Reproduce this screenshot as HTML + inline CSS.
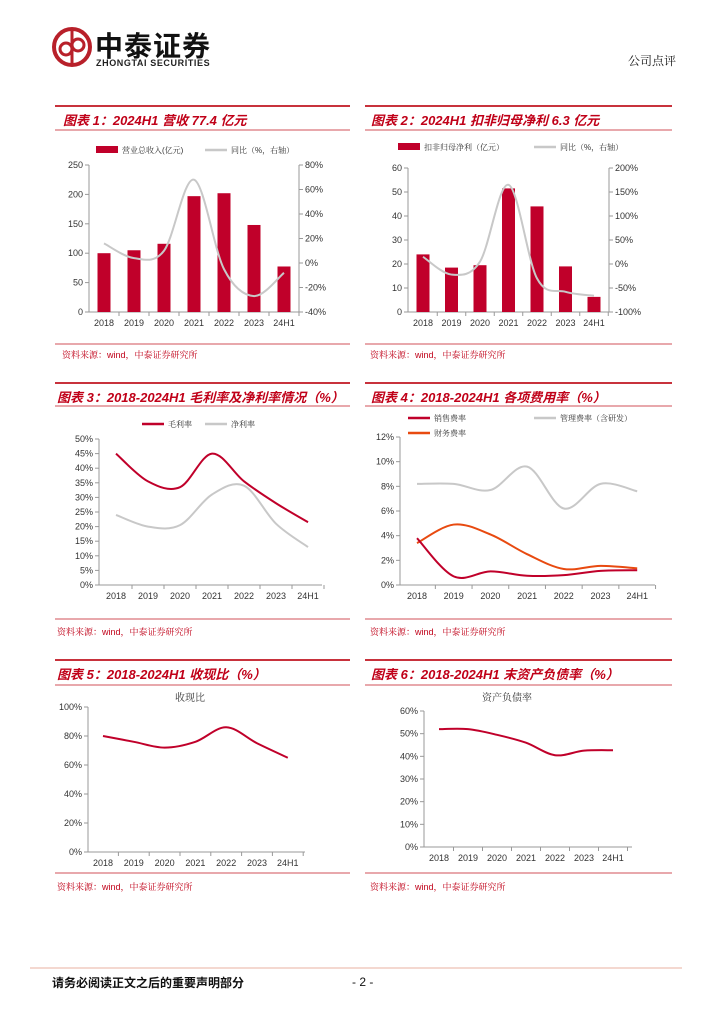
<!DOCTYPE html>
<html><head><meta charset="utf-8">
<style>
body{margin:0;background:#fff;}
#page{position:relative;width:724px;height:1024px;overflow:hidden;font-family:"Liberation Sans","Noto Sans CJK SC",sans-serif;}
.t{position:absolute;white-space:nowrap;}
.ttl{position:absolute;color:#c00018;font-weight:bold;font-style:italic;font-size:13px;font-family:"Liberation Sans","Noto Sans CJK SC",sans-serif;}
.src{position:absolute;color:#c00018;font-size:9px;font-family:"Liberation Sans","Noto Serif CJK SC",sans-serif;}
svg{position:absolute;left:0;top:0;}
</style></head>
<body>
<div id="page">
<svg width="724" height="1024">
 <g>
  <circle cx="72" cy="47" r="18" fill="none" stroke="#b8202a" stroke-width="4"/>
  <line x1="72" y1="31" x2="72" y2="63" stroke="#b8202a" stroke-width="3"/>
  <circle cx="66" cy="49" r="6" fill="none" stroke="#b8202a" stroke-width="3"/>
  <circle cx="78" cy="45" r="6" fill="none" stroke="#b8202a" stroke-width="3"/>
 </g>
 <g id="g"></g>
</svg>
<div class="t" style="left:95px;top:29px;font-size:28px;font-weight:bold;color:#111;font-family:'Noto Sans CJK SC',sans-serif;line-height:32px;letter-spacing:1px">中泰证券</div>
<div class="t" style="left:96px;top:58px;font-size:9px;font-weight:bold;color:#222;letter-spacing:0.6px">ZHONGTAI SECURITIES</div>
<div class="t" style="left:628px;top:52px;font-size:12px;color:#111;font-family:'Noto Serif CJK SC',serif">公司点评</div>

<div class="ttl" style="left:63px;top:110px">图表 1：2024H1 营收 77.4 亿元</div>
<div class="ttl" style="left:371px;top:110px">图表 2：2024H1 扣非归母净利 6.3 亿元</div>
<div class="ttl" style="left:57px;top:387px">图表 3：2018-2024H1 毛利率及净利率情况（%）</div>
<div class="ttl" style="left:371px;top:387px">图表 4：2018-2024H1 各项费用率（%）</div>
<div class="ttl" style="left:57px;top:664px">图表 5：2018-2024H1 收现比（%）</div>
<div class="ttl" style="left:371px;top:664px">图表 6：2018-2024H1 末资产负债率（%）</div>

<div class="src" style="left:62px;top:348px">资料来源：wind，中泰证券研究所</div>
<div class="src" style="left:370px;top:348px">资料来源：wind，中泰证券研究所</div>
<div class="src" style="left:57px;top:625px">资料来源：wind，中泰证券研究所</div>
<div class="src" style="left:370px;top:625px">资料来源：wind，中泰证券研究所</div>
<div class="src" style="left:57px;top:880px">资料来源：wind，中泰证券研究所</div>
<div class="src" style="left:370px;top:880px">资料来源：wind，中泰证券研究所</div>

<div class="t" style="left:52px;top:974px;font-size:12px;font-weight:bold;color:#111;font-family:'Noto Sans CJK SC',sans-serif">请务必阅读正文之后的重要声明部分</div>
<div class="t" style="left:352px;top:975px;font-size:12px;color:#111">- 2 -</div>
</div>
<script>
const years=["2018","2019","2020","2021","2022","2023","24H1"];
const rev=[100,105,116,197,202,148,77.4];
const revYoY=[16,4,10,68,-5,-27,-8];
const np=[24,18.5,19.5,51.5,44,19,6.3];
const npYoY=[15,-22,5,165,-30,-58,-66];
const gross=[45,35.5,33.5,45,35.5,28,21.5];
const net=[24,20,20.5,31,34,21,13];
const sales=[3.8,0.7,1.1,0.75,0.8,1.15,1.2];
const admin=[8.2,8.2,7.7,9.6,6.2,8.2,7.6];
const fin=[3.4,4.9,4.1,2.5,1.3,1.55,1.35];
const cash=[80,76,72,76,86,75,65];
const debt=[52,52,49.5,46,40.5,42.5,42.7];
const tick1=[0,50,100,150,200,250], tick1r=[-40,-20,0,20,40,60,80];
const tick2=[0,10,20,30,40,50,60], tick2r=[-100,-50,0,50,100,150,200];

const NS="http://www.w3.org/2000/svg";
const G=document.getElementById('g');
function el(t,a,name,parent){const e=document.createElementNS(NS,t);for(const k in a)e.setAttribute(k,a[k]);


(parent||G).appendChild(e);return e;}
function txt(x,y,s,name,opt){opt=opt||{};const e=el('text',{x:x,y:y,'font-size':opt.fs||9,fill:opt.fill||'#333','text-anchor':opt.anchor||'middle','font-family':opt.ff||'"Liberation Sans","Noto Serif CJK SC",sans-serif'},name);e.textContent=s;return e;}
function lin(x1,y1,x2,y2,c,w,name){return el('line',{x1:x1,y1:y1,x2:x2,y2:y2,stroke:c,'stroke-width':w},name);}
function smooth(pts){let d='M'+pts[0][0]+','+pts[0][1];for(let i=0;i<pts.length-1;i++){const p0=pts[i-1]||pts[i],p1=pts[i],p2=pts[i+1],p3=pts[i+2]||p2;
d+=' C'+(p1[0]+(p2[0]-p0[0])/6)+','+(p1[1]+(p2[1]-p0[1])/6)+' '+(p2[0]-(p3[0]-p1[0])/6)+','+(p2[1]-(p3[1]-p1[1])/6)+' '+p2[0]+','+p2[1];}return d;}
function panelLines(x1,x2,yTop,yUnder,ySrc){lin(x1,yTop,x2,yTop,'#c8323c',2,'panel-top-rule');lin(x1,yUnder,x2,yUnder,'#d05058',1,'title-underline');lin(x1,ySrc,x2,ySrc,'#d05058',1,'source-rule');}
panelLines(55,350,106,130,344);panelLines(365,672,106,130,344);
panelLines(55,350,383,406,619);panelLines(365,672,383,406,619);
panelLines(55,350,660,685,873);panelLines(365,672,660,685,873);
lin(30,968,682,968,'#e8b0a0',1,'footer-rule');

function xAxis(x0,step,xl,xr,y0,name,tickEdges){lin(xl,y0,xr,y0,'#999',1,name+'-x-axis');
years.forEach((c,i)=>{const x=x0+i*step;txt(x,y0+14,c,name+'-x-label');if(tickEdges)lin(x+step/2,y0,x+step/2,y0+4,'#999',1,name+'-x-tick');});}
function yAxis(x,ticks,sc,fmt,name,right){lin(x,sc(ticks[0]),x,sc(ticks[ticks.length-1]),'#999',1,name+'-y-axis');
ticks.forEach(t=>{lin(right?x:x-4,sc(t),right?x+4:x,sc(t),'#999',1,name+'-y-tick');txt(right?x+6:x-6,sc(t)+3,fmt(t),name+'-y-label',{anchor:right?'start':'end'});});}
function line(vals,x0,step,sc,color,w,name){el('path',{d:smooth(vals.map((v,i)=>[x0+i*step,sc(v)])),fill:'none',stroke:color,'stroke-width':w},name);}
const RED='#c0002a',GRAY='#c8c8c8',ORG='#e84a10';
function leg(x,y,color,label,name,bar){if(bar)el('rect',{x:x,y:y-4,width:22,height:7,fill:color},name+'-swatch');else lin(x,y,x+22,y,color,2.5,name+'-swatch');txt(x+26,y+3,label,name,{anchor:'start',fs:8});}

(function(){const y0=312,yt=165,sc=v=>y0-(v/250)*(y0-yt),sr=v=>y0-((v+40)/120)*(y0-yt),x0=104,st=30;
yAxis(89,tick1,sc,t=>t,'c1');yAxis(299,tick1r,sr,t=>t+'%','c1r',true);
xAxis(x0,st,89,299,y0,'c1',true);
rev.forEach((v,i)=>el('rect',{x:x0+i*st-6.5,y:sc(v),width:13,height:y0-sc(v),fill:RED},'bar-revenue-'+years[i]));
line(revYoY,x0,st,sr,GRAY,2,'revenue-yoy-line');
leg(96,150,RED,'营业总收入(亿元)','c1-legend-revenue',true);leg(205,150,GRAY,'同比（%，右轴）','c1-legend-yoy');})();

(function(){const y0=312,yt=168,sc=v=>y0-(v/60)*(y0-yt),sr=v=>y0-((v+100)/300)*(y0-yt),x0=423,st=28.5;
yAxis(408,tick2,sc,t=>t,'c2');yAxis(609,tick2r,sr,t=>t+'%','c2r',true);
xAxis(x0,st,408,609,y0,'c2',true);
np.forEach((v,i)=>el('rect',{x:x0+i*st-6.5,y:sc(v),width:13,height:y0-sc(v),fill:RED},'bar-profit-'+years[i]));
line(npYoY,x0,st,sr,GRAY,2,'profit-yoy-line');
leg(398,147,RED,'扣非归母净利（亿元）','c2-legend-profit',true);leg(534,147,GRAY,'同比（%，右轴）','c2-legend-yoy');})();

(function(){const y0=585,yt=439,sc=v=>y0-(v/50)*(y0-yt),x0=116,st=32;
yAxis(99,[0,5,10,15,20,25,30,35,40,45,50],sc,t=>t+'%','c3');
xAxis(x0,st,99,322,y0,'c3',true);
line(net,x0,st,sc,GRAY,2,'net-margin-line');line(gross,x0,st,sc,RED,2,'gross-margin-line');
leg(142,424,RED,'毛利率','c3-legend-gross');leg(205,424,GRAY,'净利率','c3-legend-net');})();

(function(){const y0=585,yt=437,sc=v=>y0-(v/12)*(y0-yt),x0=417,st=36.7;
yAxis(400,[0,2,4,6,8,10,12],sc,t=>t+'%','c4');
xAxis(x0,st,400,655,y0,'c4',true);
line(admin,x0,st,sc,GRAY,2,'admin-expense-line');line(fin,x0,st,sc,ORG,2,'finance-expense-line');line(sales,x0,st,sc,RED,2,'sales-expense-line');
leg(408,418,RED,'销售费率','c4-legend-sales');leg(534,418,GRAY,'管理费率（含研发）','c4-legend-admin');leg(408,433,ORG,'财务费率','c4-legend-finance');})();

(function(){const y0=852,yt=707,sc=v=>y0-(v/100)*(y0-yt),x0=103,st=30.8;
yAxis(88,[0,20,40,60,80,100],sc,t=>t+'%','c5');
xAxis(x0,st,88,305,y0,'c5',true);
line(cash,x0,st,sc,RED,2,'cash-ratio-line');
txt(190,701,'收现比','c5-chart-title',{fs:10});})();

(function(){const y0=847,yt=711,sc=v=>y0-(v/60)*(y0-yt),x0=439,st=29;
yAxis(424,[0,10,20,30,40,50,60],sc,t=>t+'%','c6');
xAxis(x0,st,424,632,y0,'c6',true);
line(debt,x0,st,sc,RED,2,'debt-ratio-line');
txt(507,701,'资产负债率','c6-chart-title',{fs:10});})();
</script>
</body></html>
